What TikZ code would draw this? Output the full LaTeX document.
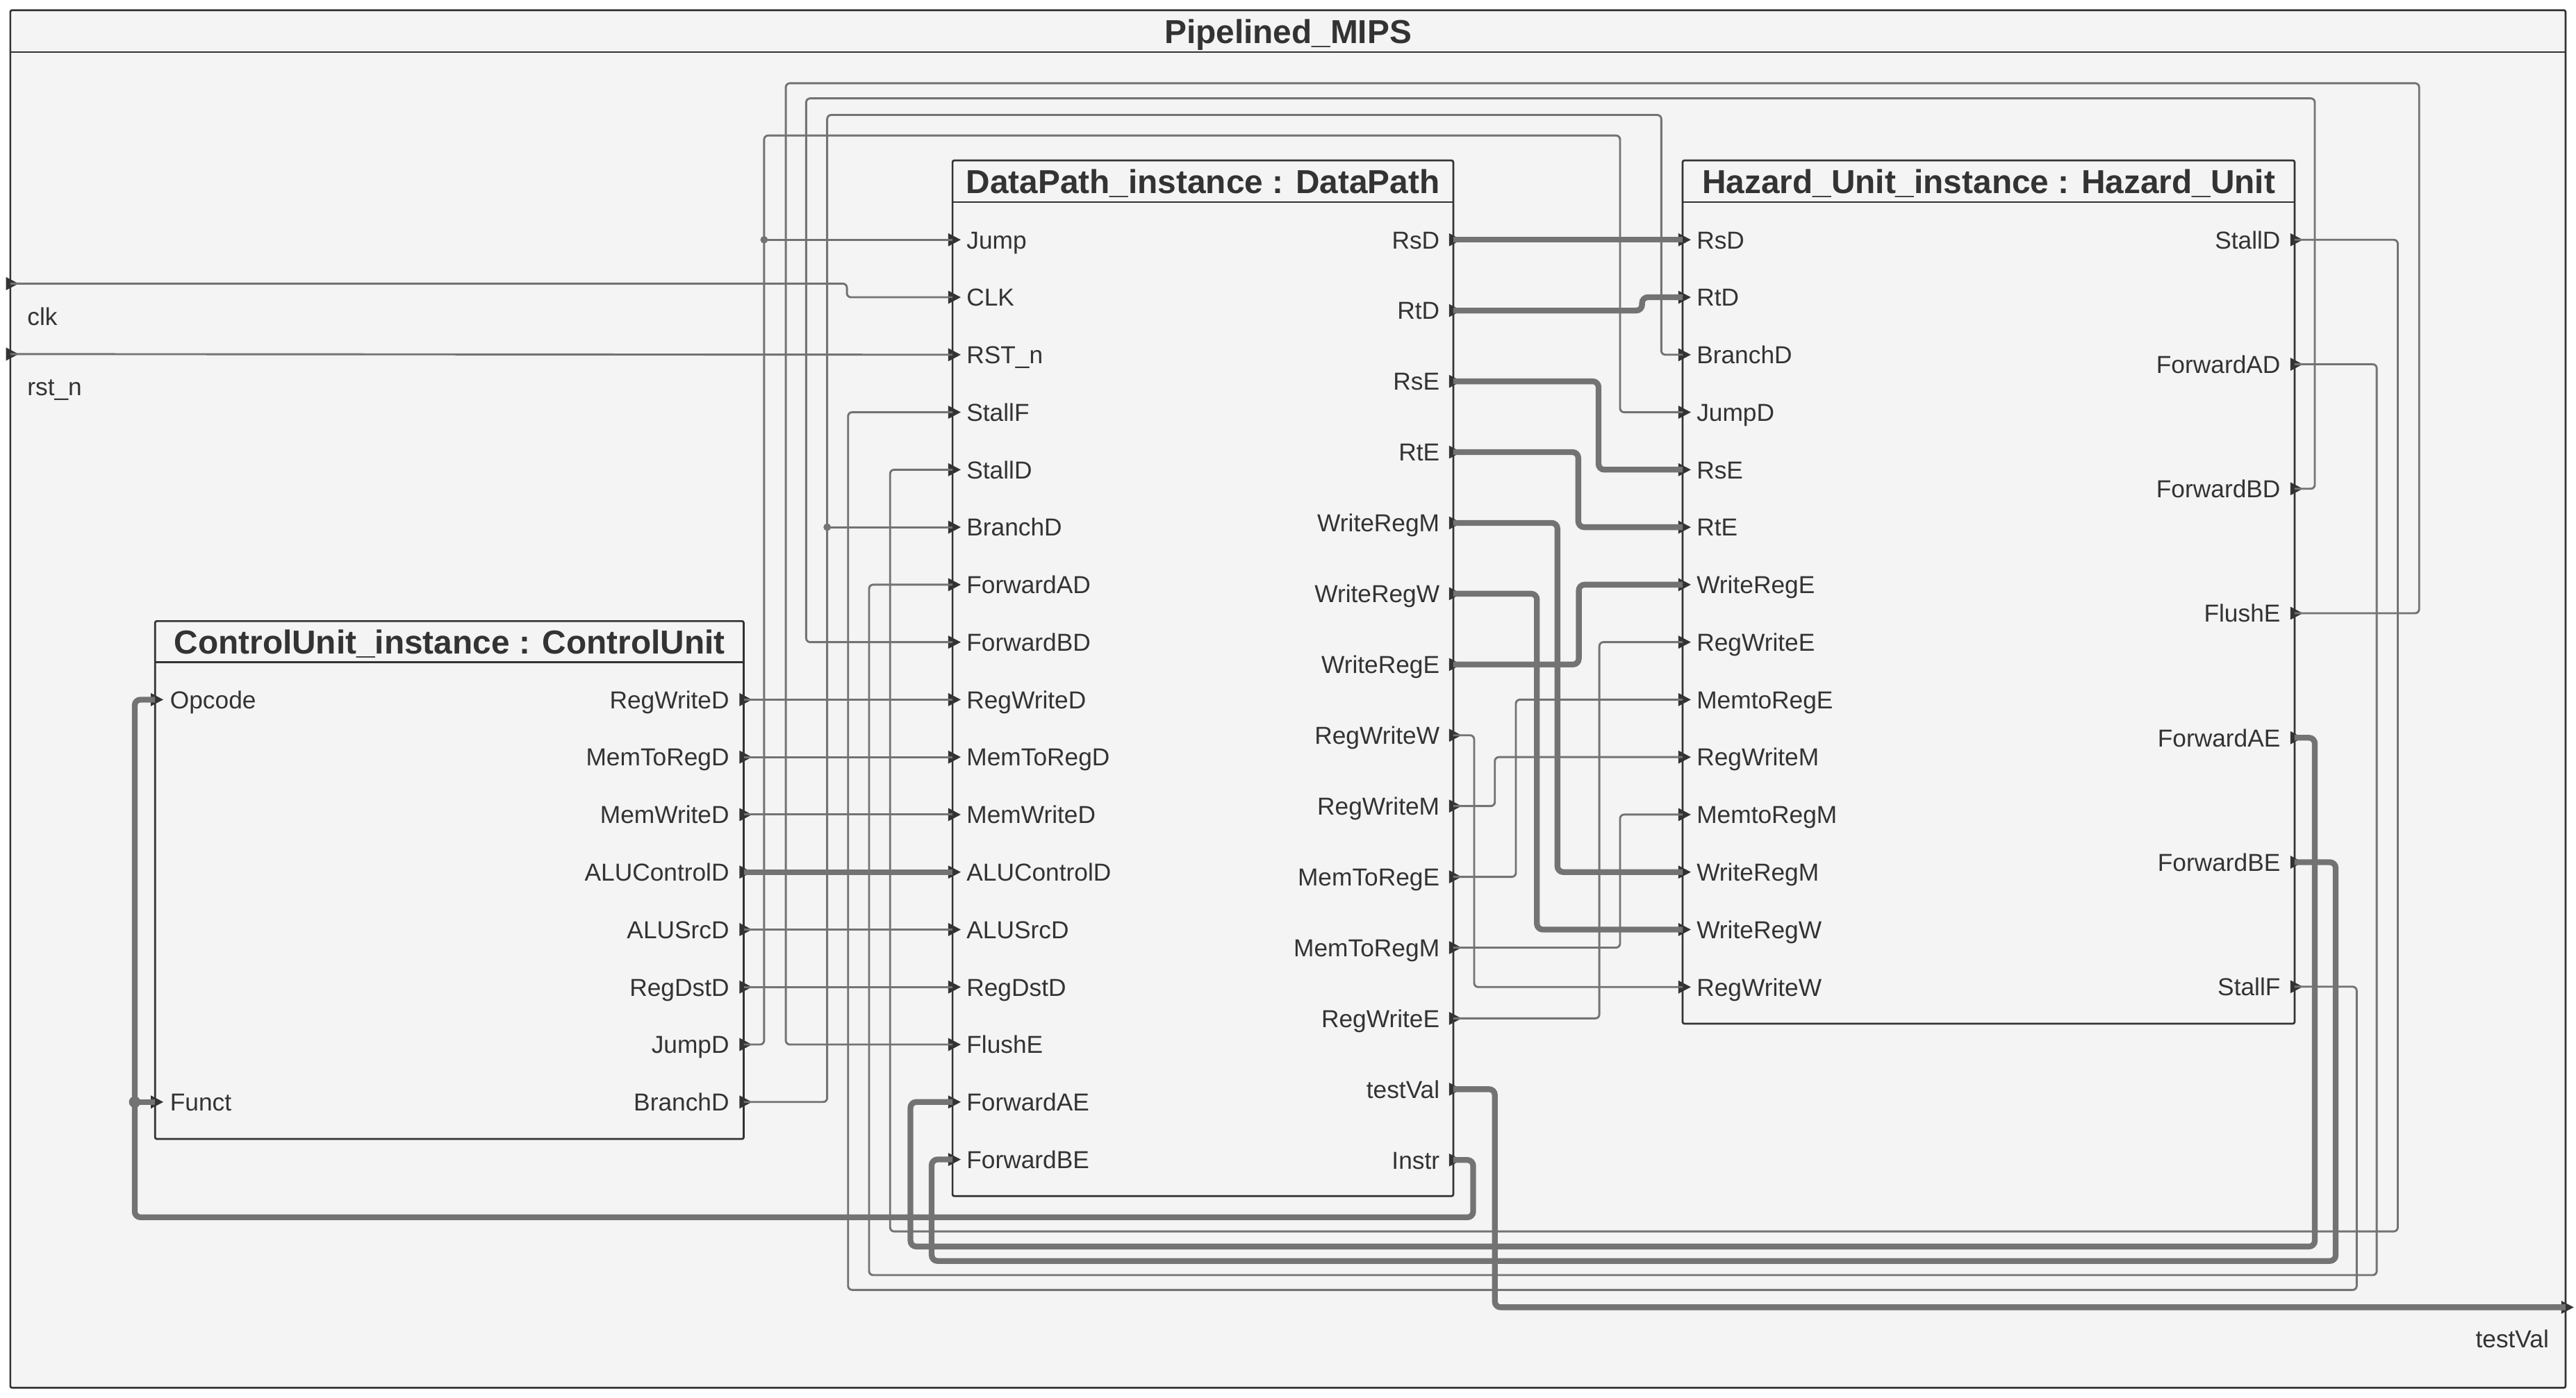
\documentclass[tikz,border=0pt]{standalone}
\usepackage{fontspec}
\setmainfont{Liberation Sans}
\usetikzlibrary{arrows.meta}
\definecolor{bgc}{HTML}{F4F4F4}
\definecolor{edgec}{HTML}{333333}
\definecolor{wirec}{HTML}{737373}
\tikzset{
  blk/.style={draw=edgec, line width=0.65pt, fill=bgc, rounded corners=0.6pt},
  wire/.style={draw=wirec, line width=0.7pt, rounded corners=1.4pt},
  bus/.style={draw=wirec, line width=2pt, rounded corners=2pt},
  plab/.style={font=\fontsize{8.5}{10}\selectfont, text=edgec, inner sep=0pt},
  ttl/.style={font=\fontsize{11.5}{13}\selectfont\bfseries, text=edgec, inner sep=0pt},
  portmk/.pic={\fill[edgec] (-2.6,-4) -- (5,0) -- (-2.6,4) -- cycle;}
}
\begin{document}
\begin{tikzpicture}[x=0.02cm, y=-0.02cm]
  % frame of the top module
  \path[use as bounding box, fill=white] (0,0) rectangle (1568,851);
  \draw[blk] (6.3,6.2) rectangle (1561.6,845);
  \draw[blk] (6.3,31.7) -- (1561.6,31.7);
  \node[ttl, anchor=base] (top) at (784,26.3) {Pipelined\_MIPS};

  % the three instances
  \draw[blk] (579.8,97.7) rectangle (884.6,728.3);
  \draw[blk] (579.8,123.1) -- (884.6,123.1);
  \node[ttl, anchor=base] (dpT) at (732.2,117.9) {DataPath\_instance : DataPath};
  \draw[blk] (1024.2,97.7) rectangle (1396.7,623.3);
  \draw[blk] (1024.2,123.1) -- (1396.7,123.1);
  \node[ttl, anchor=base] (huT) at (1210.5,117.9) {Hazard\_Unit\_instance : Hazard\_Unit};
  \draw[blk] (94.4,378.2) rectangle (452.7,693.5);
  \draw[blk] (94.4,403.3) -- (452.7,403.3);
  \node[ttl, anchor=base] (cuT) at (273.6,398.2) {ControlUnit\_instance : ControlUnit};

  % ports
  \foreach \n [count=\i] in {Jump,CLK,{RST\_n},StallF,StallD,BranchD,ForwardAD,ForwardBD,RegWriteD,MemToRegD,MemWriteD,ALUControlD,ALUSrcD,RegDstD,FlushE,ForwardAE,ForwardBE} {
    \coordinate (dpL\i) at (579.8,{146+35*(\i-1)});
    \pic at (dpL\i) {portmk};
    \node[plab, anchor=base west] (dpLt\i) at (588,{151.4+35*(\i-1)}) {\n};
  }
  \foreach \n [count=\i] in {RsD,RtD,RsE,RtE,WriteRegM,WriteRegW,WriteRegE,RegWriteW,RegWriteM,MemToRegE,MemToRegM,RegWriteE,testVal,Instr} {
    \coordinate (dpR\i) at (884.6,{146+43.1*(\i-1)});
    \pic at (dpR\i) {portmk};
    \node[plab, anchor=base east] (dpRt\i) at (876.6,{151.4+43.1*(\i-1)}) {\n};
  }
  \foreach \n [count=\i] in {RsD,RtD,BranchD,JumpD,RsE,RtE,WriteRegE,RegWriteE,MemtoRegE,RegWriteM,MemtoRegM,WriteRegM,WriteRegW,RegWriteW} {
    \coordinate (huL\i) at (1024.2,{146+35*(\i-1)});
    \pic at (huL\i) {portmk};
    \node[plab, anchor=base west] (huLt\i) at (1032.4,{151.4+35*(\i-1)}) {\n};
  }
  \foreach \n [count=\i] in {StallD,ForwardAD,ForwardBD,FlushE,ForwardAE,ForwardBE,StallF} {
    \coordinate (huR\i) at (1396.7,{146+75.8*(\i-1)});
    \pic at (huR\i) {portmk};
    \node[plab, anchor=base east] (huRt\i) at (1388.4,{151.4+75.8*(\i-1)}) {\n};
  }
  \foreach \n [count=\i] in {RegWriteD,MemToRegD,MemWriteD,ALUControlD,ALUSrcD,RegDstD,JumpD,BranchD} {
    \coordinate (cuR\i) at (452.7,{426+35*(\i-1)});
    \pic at (cuR\i) {portmk};
    \node[plab, anchor=base east] (cuRt\i) at (444.2,{431.4+35*(\i-1)}) {\n};
  }
  \foreach \n/\yy [count=\i] in {Opcode/426,Funct/671} {
    \coordinate (cuL\i) at (94.4,\yy);
    \pic at (cuL\i) {portmk};
    \node[plab, anchor=base west] (cuLt\i) at (103.2,\yy+5.4) {\n};
  }
  \coordinate (tclk) at (6.3,172.7);
  \coordinate (trst) at (6.3,215.6);
  \coordinate (ttv) at (1561.6,796);
  \pic at (tclk) {portmk};
  \pic at (trst) {portmk};
  \pic at (ttv) {portmk};
  \node[plab, anchor=base west] (clkT) at (16.3,198) {clk};
  \node[plab, anchor=base west] (rstT) at (16.3,241) {rst\_n};
  \node[plab, anchor=base east] (tvT) at (1551.8,820.6) {testVal};

  % control signals
  \draw[wire] (tclk) -- +(509.2,0) |- (dpL2);
  \draw[wire] (trst) -- (dpL3);
  \foreach \a/\b in {1/9,2/10,3/11,5/13,6/14}
    \draw[wire] (cuR\a) -- (dpL\b);
  \coordinate (jdot) at (465.1,146);
  \coordinate (bdot) at (503.5,321);
  \draw[wire] (cuR7) -- +(12.4,0) |- (986.1,82.5) |- (huL4);
  \draw[wire] (jdot) -- (dpL1);
  \draw[wire] (cuR8) -- +(50.8,0) |- (1011.2,70) |- (huL3);
  \draw[wire] (bdot) -- (dpL6);
  \fill[wirec] (jdot) circle (1.3pt);
  \fill[wirec] (bdot) circle (1.3pt);

  % hazard outputs back to the datapath
  \draw[wire] (huR4) -- +(75.8,0) |- (478.3,50.7) |- (dpL15);
  \draw[wire] (huR3) -- +(12.3,0) |- (490.7,59.9) |- (dpL8);
  \draw[wire] (huR1) -- +(62.8,0) |- (541.8,749.8) |- (dpL5);
  \draw[wire] (huR2) -- +(50,0) |- (529,776.4) |- (dpL7);
  \draw[wire] (huR7) -- +(37.8,0) |- (516.2,785.4) |- (dpL4);
  \draw[bus] (huR5) -- +(12.3,0) |- (554.2,759) |- (dpL16);
  \draw[bus] (huR6) -- +(25,0) |- (567.1,767.8) |- (dpL17);

  % datapath to hazard unit
  \draw[wire] (dpR8) -- +(12.7,0) |- (huL14);
  \draw[wire] (dpR9) -- +(25.3,0) |- (huL10);
  \draw[wire] (dpR10) -- +(38.1,0) |- (huL9);
  \draw[wire] (dpR11) -- +(101.5,0) |- (huL11);
  \draw[wire] (dpR12) -- +(88.9,0) |- (huL8);
  \draw[bus] (cuR4) -- (dpL12);
  \draw[bus] (dpR1) -- (huL1);
  \draw[bus] (dpR2) -- +(114.9,0) |- (huL2);
  \draw[bus] (dpR3) -- +(88.4,0) |- (huL5);
  \draw[bus] (dpR4) -- +(76.1,0) |- (huL6);
  \draw[bus] (dpR5) -- +(63.4,0) |- (huL12);
  \draw[bus] (dpR6) -- +(50.9,0) |- (huL13);
  \draw[bus] (dpR7) -- +(76.4,0) |- (huL7);

  % instruction back to the control unit, test output
  \coordinate (fdot) at (82,671);
  \draw[bus] (dpR14) -- +(12.1,0) |- (82,741.2) |- (cuL1);
  \draw[bus] (fdot) -- (cuL2);
  \fill[wirec] (fdot) circle (2pt);
  \draw[bus] (dpR13) -- +(25.3,0) |- (ttv);
\end{tikzpicture}
\end{document}
